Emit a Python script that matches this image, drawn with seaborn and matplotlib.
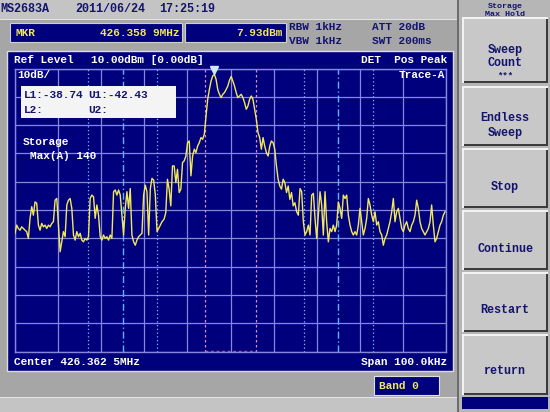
import pandas as pd
import matplotlib.pyplot as plt
from matplotlib.patches import Rectangle
import seaborn as sns

# Trace A (max hold) - offset from center frequency (kHz) and level (dBm)
offset_khz = [
    # lower noise floor
    -50.00, -49.61, -49.22, -48.84, -48.45, -48.06, -47.67, -47.29, -46.90, -46.51,
    -46.12, -45.74, -45.35, -44.96, -44.57, -44.19, -43.80, -43.41, -43.02, -42.64,
    -42.25, -41.86, -41.47, -41.09, -40.70, -40.31, -39.92, -39.53, -39.15, -38.76,
    -38.37, -37.98, -37.60, -37.21, -36.82, -36.43, -36.05, -35.66, -35.27, -34.88,
    -34.50, -34.11, -33.72, -33.33, -32.95, -32.56, -32.17, -31.78, -31.40, -31.01,
    -30.62, -30.23, -29.84, -29.46, -29.07, -28.68, -28.29, -27.91, -27.52, -27.13,
    -26.74, -26.36, -25.97, -25.58, -25.19, -24.81, -24.42, -24.03, -23.64, -23.26,
    -22.87, -22.48, -22.09, -21.71, -21.32, -20.93, -20.54, -20.16, -19.77, -19.38,
    -18.99, -18.60, -18.22, -17.83, -17.44, -17.05, -16.67, -16.28, -15.89,
    # signal
    -15.41, -15.02, -14.63, -14.24, -13.85, -13.46, -13.07, -12.68, -12.30, -11.91,
    -11.52, -11.13, -10.74, -10.35, -9.96, -9.57, -9.18, -8.79, -8.40, -8.02,
    -7.63, -7.24, -6.85, -6.46, -6.07, -5.68, -5.29, -4.90, -4.51, -4.12,
    -3.74, -3.35, -2.96, -2.57, -2.18, -1.79, -1.40, -1.01, -0.62, -0.23,
    0.16, 0.54, 0.93, 1.32, 1.71, 2.10, 2.49, 2.88, 3.27, 3.66,
    4.05, 4.44, 4.82, 5.21, 5.60, 5.99, 6.38, 6.77, 7.16, 7.55,
    7.94, 8.33, 8.72, 9.11, 9.49, 9.88, 10.27, 10.66, 11.05, 11.44,
    11.83, 12.22, 12.61, 13.00, 13.39, 13.77, 14.16, 14.55, 14.94,
    # upper noise floor
    15.35, 15.74, 16.13, 16.51, 16.90, 17.29, 17.67, 18.06, 18.45, 18.83,
    19.22, 19.61, 19.99, 20.38, 20.77, 21.15, 21.54, 21.93, 22.31, 22.70,
    23.09, 23.48, 23.86, 24.25, 24.64, 25.02, 25.41, 25.80, 26.18, 26.57,
    26.96, 27.34, 27.73, 28.12, 28.50, 28.89, 29.28, 29.66, 30.05, 30.44,
    30.82, 31.21, 31.60, 31.98, 32.37, 32.76, 33.14, 33.53, 33.92, 34.30,
    34.69, 35.08, 35.46, 35.85, 36.24, 36.62, 37.01, 37.40, 37.78, 38.17,
    38.56, 38.94, 39.33, 39.72, 40.10, 40.49, 40.88, 41.26, 41.65, 42.04,
    42.42, 42.81, 43.20, 43.58, 43.97, 44.36, 44.74, 45.13, 45.52, 45.90,
    46.29, 46.67, 47.06, 47.45, 47.83, 48.22, 48.61, 48.99, 49.38, 49.77,
]
level_dbm = [
    -48.2, -45.3, -46.5, -47.1, -45.9, -46.5, -47.1, -47.6, -50.0, -42.9,
    -38.8, -41.8, -37.1, -37.6, -45.3, -47.1, -44.7, -45.9, -45.3, -46.5,
    -45.3, -45.9, -44.7, -44.1, -36.5, -35.9, -45.3, -54.7, -51.2, -47.6,
    -49.4, -38.2, -36.5, -35.9, -39.4, -48.8, -50.6, -47.6, -49.4, -48.2,
    -50.6, -51.2, -50.0, -50.6, -49.4, -35.9, -34.7, -35.3, -42.9, -38.2,
    -41.8, -49.4, -50.6, -48.8, -50.0, -49.4, -50.6, -48.8, -50.0, -33.5,
    -32.9, -34.7, -32.9, -34.7, -41.8, -48.8, -39.4, -33.5, -39.4, -32.4,
    -48.8, -51.2, -52.4, -50.6, -49.4, -48.8, -48.2, -34.7, -31.2, -33.5,
    -48.8, -32.4, -28.8, -29.4, -34.7, -47.6, -46.5, -45.3, -44.1,
    -43.2, -40.9, -29.1, -32.6, -38.5, -24.4, -24.4, -30.3, -25.6, -33.8,
    -32.6, -23.2, -22.6, -20.9, -16.2, -15.6, -27.9, -20.9, -18.5, -19.7,
    -17.4, -16.2, -14.4, -15.0, -13.2, -6.8, -0.9, 2.6, 5.6, 7.4,
    7.93, 6.2, 2.6, 0.9, -0.3, 0.9, 1.5, 2.6, 3.8, 5.9,
    7.2, 5.6, 3.8, 1.5, -0.3, 0.3, 0.9, -0.3, -2.1, -4.4,
    -3.2, -0.9, 0.3, -0.9, -4.4, -7.9, -12.6, -14.4, -18.5, -14.4,
    -17.4, -19.7, -20.9, -17.4, -15.6, -16.2, -18.5, -24.4, -29.1, -31.5,
    -32.6, -29.1, -30.3, -33.8, -31.5, -36.2, -33.8, -38.5, -37.4,
    -40.6, -41.8, -32.4, -33.5, -44.1, -48.8, -47.6, -45.3, -48.8, -34.7,
    -34.1, -42.9, -50.0, -41.8, -33.5, -38.2, -48.8, -33.5, -44.1, -51.2,
    -46.5, -47.6, -45.3, -47.6, -45.3, -37.1, -39.4, -42.9, -34.7, -35.9,
    -34.7, -41.8, -45.3, -47.6, -48.8, -47.6, -48.8, -45.3, -39.4, -44.1,
    -48.8, -46.5, -42.9, -35.9, -38.2, -41.8, -44.1, -40.6, -45.3, -44.1,
    -47.6, -48.8, -52.4, -50.0, -48.8, -46.5, -44.1, -40.6, -35.9, -44.1,
    -40.6, -39.4, -42.9, -46.5, -47.6, -45.3, -44.1, -46.5, -47.6, -45.3,
    -44.1, -41.8, -36.5, -39.4, -44.1, -46.5, -47.6, -48.8, -47.6, -46.5,
    -44.1, -38.2, -45.3, -51.2, -50.0, -47.6, -45.3, -44.1, -41.8, -40.6,
]

# marker (peak)
marker_khz = -3.74
marker_dbm = 7.93

# display lines, kHz from center
pink_lines = [-6, 6]
dotted_lines = [-33, -17, 17, 33]
dashdot_lines = [-25, 25]

softkeys = [["Sweep", "Count", "***"], ["Endless", "Sweep"], ["Stop"],
            ["Continue"], ["Restart"], ["return"]]

df = pd.DataFrame({"offset": offset_khz, "level": level_dbm})

W, H = 550, 412
NAVY = "#00007c"
YEL = "#f2e85a"
INK = "#14146e"
MONO = "Liberation Mono"

fig = plt.figure(figsize=(W / 100, H / 100), dpi=100)
fig.patch.set_facecolor("#a6a6a6")


def box(x0, y0, x1, y1, color, ec="none", lw=0, z=1):
    fig.add_artist(Rectangle((x0 / W, 1 - y1 / H), (x1 - x0) / W, (y1 - y0) / H,
                             transform=fig.transFigure, facecolor=color,
                             edgecolor=ec, linewidth=lw, zorder=z))


def txt(x, y, s, color, size=8, ha="left", weight="bold", z=10):
    fig.text(x / W, 1 - y / H, s, color=color, fontsize=size, ha=ha, va="center",
             family=MONO, fontweight=weight, zorder=z)


# screen frame
box(0, 0, 550, 19, "#c4c4c4")
box(0, 19, 457, 20, "#e4e4e4")
box(0, 398, 457, 412, "#c4c4c4")
box(0, 397, 457, 398, "#e4e4e4")
box(457, 0, 550, 412, "#b6b6b6")
box(457, 0, 459, 412, "#6c6c6c")

txt(0.5, 9, "MS2683A", INK, 8.5)
txt(75, 9, "2011/06/24", INK, 8.5)
txt(159, 9, "17:25:19", INK, 8.5)

# marker readout
box(10, 23, 182, 42, NAVY, ec="#d0d0d0", lw=0.8)
box(185, 23, 286, 42, NAVY, ec="#d0d0d0", lw=0.8)
txt(15, 33, "MKR", YEL)
txt(179, 33, "426.358 9MHz", YEL, ha="right")
txt(283, 33, "7.93dBm", YEL, ha="right")
txt(289, 27, "RBW 1kHz", INK)
txt(289, 41, "VBW 1kHz", INK)
txt(372, 27, "ATT 20dB", INK)
txt(372, 41, "SWT 200ms", INK)

# main panel
box(7, 51, 453, 371, NAVY, ec="#dcdcdc", lw=1)
txt(14, 60, "Ref Level", "white")
txt(91, 60, "10.00dBm [0.00dB]", "white")
txt(447, 60, "DET  Pos Peak", "white", ha="right")
txt(14, 362, "Center 426.362 5MHz", "white")
txt(447, 362, "Span 100.0kHz", "white", ha="right")

box(374, 376, 439, 395, NAVY, ec="#e0e0e0", lw=0.8)
txt(379, 386, "Band 0", YEL)

# softkeys
txt(505, 6, "Storage", INK, 6, ha="center")
txt(505, 15, "Max Hold", INK, 6, ha="center")
key_rows = [(17, 83), (86, 146), (148, 208), (210, 270), (272, 332), (334, 395)]
label_y = [[50, 63, 76], [118, 133], [187], [249], [310], [371]]
for (y0, y1), labels, ys in zip(key_rows, softkeys, label_y):
    box(462, y0, 548, y1, "#f2f2f2")
    box(464, y0 + 2, 548, y1, "#3c3c3c")
    box(464, y0 + 2, 546, y1 - 2, "#c8c8c8")
    for s, y in zip(labels, ys):
        txt(505, y, s, INK, 6.5 if s == "***" else 8.5, ha="center")
box(462, 397, 548, 409, NAVY)

# trace area
ax = fig.add_axes([15 / W, 1 - 351.7 / H, 431 / W, 283.2 / H])
ax.set_zorder(5)
ax.set_facecolor(NAVY)
grid_c = "#8686dc"
ax.set_xlim(-50, 50)
ax.set_ylim(-90, 10)
ax.set_xticks(range(-50, 51, 10))
ax.set_yticks(range(-90, 11, 10))
ax.grid(True, color=grid_c, linewidth=0.9)
ax.tick_params(length=0, labelbottom=False, labelleft=False)
for sp in ax.spines.values():
    sp.set_color(grid_c)
    sp.set_linewidth(1)
ax.axhline(10, color="#40b89c", linewidth=1.4, zorder=3)

for x in pink_lines:
    ax.axvline(x, color="#e08cc0", linewidth=0.9, linestyle=(0, (2, 2)))
for x in dotted_lines:
    ax.axvline(x, color="#78bcff", linewidth=0.9, linestyle=(0, (1, 2)))
for x in dashdot_lines:
    ax.axvline(x, color="#5cb4ff", linewidth=1, linestyle=(0, (5, 2, 1, 2)))
ax.plot(pink_lines, [-89.6, -89.6], color="#d04868", linewidth=1, linestyle=(0, (2, 2)))

sns.lineplot(data=df, x="offset", y="level", ax=ax, color=YEL, linewidth=1,
             estimator=None, sort=False, zorder=4)
ax.plot(marker_khz, 9.3, marker="v", color="#cfe8ff", markersize=6, clip_on=False, zorder=6)
ax.set_xlabel("")
ax.set_ylabel("")

txt(17, 75, "10dB/", "white", z=12)
txt(445, 75, "Trace-A", "white", ha="right", z=12)

# limit line readout
box(20.5, 86, 175.5, 118, "#f4f4f4", z=11)
txt(24, 94.5, "L1:-38.74", INK, z=12)
txt(88, 94.5, "U1:-42.43", INK, z=12)
txt(24, 110, "L2:", INK, z=12)
txt(88, 110, "U2:", INK, z=12)
txt(23, 142, "Storage", "white", z=12)
txt(30, 156, "Max(A) 140", "white", z=12)

fig.savefig("out.png", dpi=100, facecolor=fig.get_facecolor())
